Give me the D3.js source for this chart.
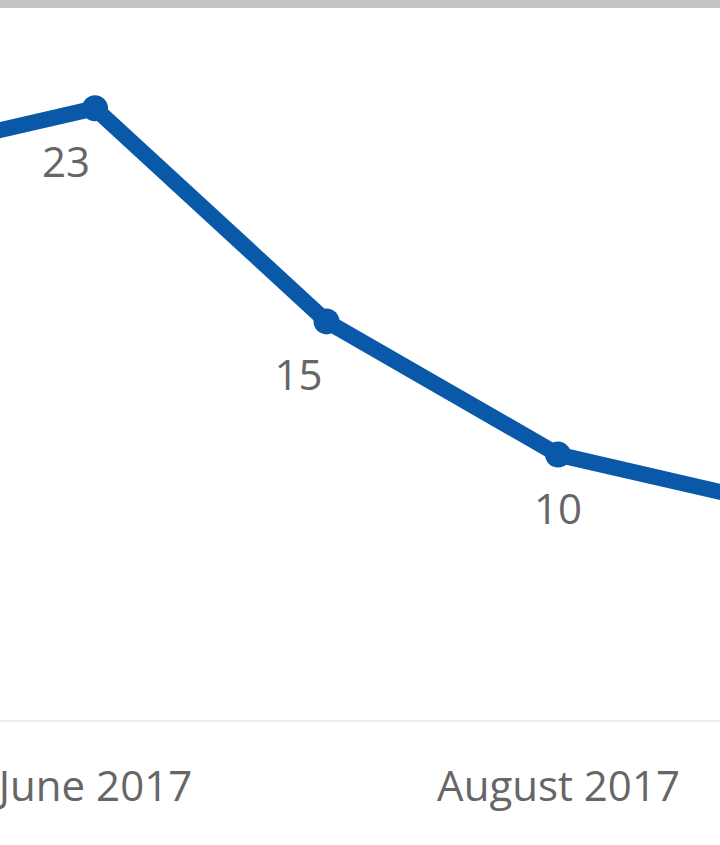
<!DOCTYPE html>
<html>
<head>
<meta charset="utf-8">
<script src="https://cdn.jsdelivr.net/npm/d3@7"></script>
<style>
  html, body { margin: 0; padding: 0; background: #ffffff; }
  svg { display: block; }
</style>
</head>
<body>
<svg id="chart" width="720" height="845"></svg>
<script>
// ---- data ----
const months = ["May 2017", "June 2017", "July 2017", "August 2017", "September 2017"];
const values = [21, 23, 15, 10, 8];
const labelledMonths = ["June 2017", "July 2017", "August 2017"];
const axisTickLabels = ["June 2017", "August 2017"];

// ---- layout ----
const W = 720, H = 845;
const svg = d3.select("#chart");

const x = d3.scalePoint()
  .domain(months)
  .range([-136.5, 789.5]);

const y = d3.scaleLinear()
  .domain([0, 25])
  .range([721, 55]);

// top gray band
svg.append("rect").attr("x", 0).attr("y", 0).attr("width", W).attr("height", 8)
  .attr("fill", "#c4c4c4");

// baseline (zero line)
svg.append("line")
  .attr("x1", 0).attr("x2", W)
  .attr("y1", y(0)).attr("y2", y(0))
  .attr("stroke", "#ececec").attr("stroke-width", 2);

// x axis
const xAxis = d3.axisBottom(x)
  .tickValues(axisTickLabels)
  .tickSize(0)
  .tickPadding(0);
const gx = svg.append("g")
  .attr("transform", `translate(0,${y(0)})`)
  .call(xAxis);
gx.select(".domain").remove();
gx.selectAll("text")
  .attr("dy", null)
  .attr("y", 80)
  .attr("fill", "#666666")
  .style("font-family", "'Open Sans', sans-serif")
  .style("font-size", "42px");

// line
const line = d3.line()
  .x((d, i) => x(months[i]))
  .y(d => y(d));

svg.append("path")
  .datum(values)
  .attr("d", line)
  .attr("fill", "none")
  .attr("stroke", "#0a59a9")
  .attr("stroke-width", 16)
  .attr("stroke-linejoin", "round");

// markers
const pts = months.map((m, i) => ({ m, v: values[i] }));
svg.selectAll("circle.pt")
  .data(pts)
  .join("circle")
  .attr("class", "pt")
  .attr("cx", d => x(d.m))
  .attr("cy", d => y(d.v))
  .attr("r", 13)
  .attr("fill", "#0a59a9");

// value labels
const labelDx = { "June 2017": -29, "July 2017": -28, "August 2017": 0 };
svg.selectAll("text.val")
  .data(pts.filter(d => labelledMonths.includes(d.m)))
  .join("text")
  .attr("class", "val")
  .attr("x", d => x(d.m) + labelDx[d.m])
  .attr("y", d => y(d.v) + 69)
  .attr("text-anchor", "middle")
  .attr("fill", "#666666")
  .style("font-family", "'Open Sans', sans-serif")
  .style("font-size", "42px")
  .text(d => d.v);
</script>
</body>
</html>
